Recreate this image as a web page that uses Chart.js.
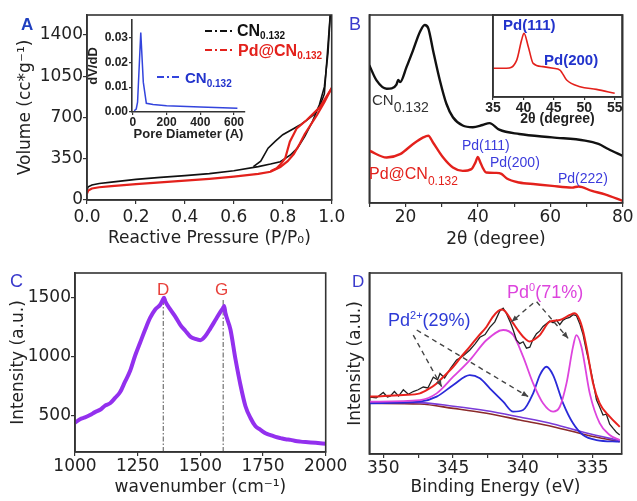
<!DOCTYPE html>
<html>
<head>
<meta charset="utf-8">
<script src="https://cdn.jsdelivr.net/npm/chart.js@4.4.0/dist/chart.umd.min.js"></script>
<style>
  body { margin: 0; background: #fff; }
  #fig { position: relative; width: 637px; height: 501px; overflow: hidden; background: #fff; }
  #fig canvas { position: absolute; }
  .lbl { position: absolute; white-space: nowrap; line-height: 1; font-family: "Liberation Sans", Arial, sans-serif; }
  .lbl span { position: relative; }
  svg { position: absolute; left: 0; top: 0; }
</style>
</head>
<body>
<div id="fig">
  <canvas id="cA" width="360" height="250" style="left:0;top:0"></canvas>
  <canvas id="cAin" width="165" height="135" style="left:85px;top:10px"></canvas>
  <canvas id="cB" width="297" height="250" style="left:340px;top:0"></canvas>
  <canvas id="cBin" width="172" height="125" style="left:465px;top:5px"></canvas>
  <canvas id="cC" width="360" height="251" style="left:0;top:250px"></canvas>
  <canvas id="cD" width="307" height="251" style="left:330px;top:250px"></canvas>

  <svg width="637" height="501">
    <g fill="none" stroke-width="2" stroke-dasharray="7 3 2 3">
      <line x1="205" y1="31" x2="233" y2="31" stroke="#111"/>
      <line x1="205" y1="50" x2="235" y2="50" stroke="#e3211c"/>
      <line x1="157" y1="77" x2="182" y2="77" stroke="#3344dd"/>
    </g>
  </svg>

  <!-- panel letters -->
  <div class="lbl" style="left:21px;top:16px;font-size:17px;font-weight:bold;color:#1f3fbf">A</div>
  <div class="lbl" style="left:349px;top:15px;font-size:18px;color:#3a3acc">B</div>
  <div class="lbl" style="left:10px;top:272px;font-size:18px;color:#3a3acc">C</div>
  <div class="lbl" style="left:352px;top:273px;font-size:17px;color:#3a3acc">D</div>

  <!-- A legend -->
  <div class="lbl" style="left:237px;top:23px;font-size:16px;font-weight:bold;color:#111">CN<span style="font-size:10px;top:3px">0.132</span></div>
  <div class="lbl" style="left:238px;top:43px;font-size:16px;font-weight:bold;color:#e3211c">Pd@CN<span style="font-size:10px;top:3px">0.132</span></div>
  <div class="lbl" style="left:185px;top:70px;font-size:15px;font-weight:bold;color:#2233cc">CN<span style="font-size:10px;top:4px">0.132</span></div>

  <!-- B labels -->
  <div class="lbl" style="left:372px;top:92px;font-size:15px;color:#333">CN<span style="font-size:14px;top:7px">0.132</span></div>
  <div class="lbl" style="left:369px;top:166px;font-size:16px;color:#e3211c">Pd@CN<span style="font-size:12px;top:6px">0.132</span></div>
  <div class="lbl" style="left:462px;top:138px;font-size:14px;color:#3b3bdc">Pd(111)</div>
  <div class="lbl" style="left:490px;top:155px;font-size:14px;color:#3b3bdc">Pd(200)</div>
  <div class="lbl" style="left:558px;top:171px;font-size:14px;color:#3b3bdc">Pd(222)</div>
  <div class="lbl" style="left:503px;top:17px;font-size:15px;font-weight:bold;color:#2233cc">Pd(111)</div>
  <div class="lbl" style="left:544px;top:52px;font-size:15px;font-weight:bold;color:#2233cc">Pd(200)</div>

  <!-- C labels -->
  <div class="lbl" style="left:157px;top:281px;font-size:17px;color:#e8403a">D</div>
  <div class="lbl" style="left:215px;top:281px;font-size:17px;color:#e8403a">G</div>

  <!-- D labels -->
  <div class="lbl" style="left:388px;top:311px;font-size:18px;color:#2d3ad6">Pd<span style="font-size:11px;top:-7px">2+</span>(29%)</div>
  <div class="lbl" style="left:507px;top:283px;font-size:18px;color:#dd44dd">Pd<span style="font-size:11px;top:-7px">0</span>(71%)</div>
</div>

<script>
// ---- A: N2 isotherms (P/P0, cc/g) ----
const cnAdsP = [0.0, 0.005, 0.02, 0.05, 0.1, 0.2, 0.3, 0.4, 0.5, 0.6, 0.7, 0.75, 0.79, 0.83, 0.86, 0.89, 0.92, 0.95, 0.97, 0.985, 0.995];
const cnAdsV = [85, 112, 128, 140, 152, 175, 192, 207, 224, 248, 283, 305, 325, 380, 440, 540, 660, 810, 960, 1250, 1600];
const cnDesP = [0.995, 0.97, 0.95, 0.925, 0.9, 0.87, 0.84, 0.8, 0.77, 0.74, 0.71, 0.68];
const cnDesV = [1600, 900, 790, 721, 680, 636, 600, 554, 500, 440, 330, 283];
const pdAdsP = [0.0, 0.005, 0.02, 0.05, 0.1, 0.2, 0.3, 0.4, 0.5, 0.6, 0.7, 0.75, 0.79, 0.82, 0.845, 0.87, 0.89, 0.94, 0.97, 1.0];
const pdAdsV = [55, 80, 98, 108, 118, 135, 150, 165, 180, 199, 222, 240, 280, 330, 390, 480, 560, 721, 830, 950];
const pdDesP = [1.0, 0.952, 0.898, 0.857, 0.829, 0.81, 0.79, 0.775, 0.75];
const pdDesV = [950, 789, 679, 608, 495, 354, 300, 269, 245];
const aTicksX = [0, 0.2, 0.4, 0.6, 0.8, 1.0];
const aTicksY = [0, 350, 700, 1050, 1400];

// inset A: pore size distribution
const poreD = [8, 20, 28, 47, 62, 80, 120, 200, 400, 620];
const poreDV = [0.0005, 0.0012, 0.004, 0.032, 0.012, 0.0035, 0.003, 0.0025, 0.002, 0.0015];
const aInTicksX = [0, 200, 400, 600];
const aInTicksY = [0, 0.01, 0.02, 0.03];

// ---- B: XRD ----
const xrdCnX = [10, 12, 14.8, 16.2, 17.5, 18, 18.5, 20.3, 22.1, 24, 25.3, 26.3, 27.6, 29.5, 31.3, 33.1, 35.8, 38.6, 41.3, 43.2, 45.9, 51.4, 60.5, 69.6, 73.3, 76, 80];
const xrdCnY = [73.3, 65.2, 60.8, 61, 63, 65.5, 64.3, 72.4, 81.3, 91.1, 94.7, 92.9, 81.3, 65.2, 52.8, 45.6, 41.2, 40.3, 41.5, 42.5, 39, 36.7, 34.9, 33.2, 31.4, 28.7, 25.1];
const xrdPdX = [10, 14.8, 18.5, 22.1, 24.9, 26.3, 27.6, 30.4, 33.1, 35.8, 38.2, 39.3, 40, 40.6, 41.3, 42.3, 45, 46.5, 48, 51.4, 55.9, 60.5, 66, 67.8, 71.5, 75.1, 80];
const xrdPdY = [27.8, 24.2, 26.0, 31.4, 34.9, 35.8, 32.2, 24.2, 18.9, 17.1, 18.0, 21.5, 24.5, 22, 18.9, 16.2, 16.0, 15.5, 13, 10.9, 10.0, 9.1, 8.2, 8.8, 6.4, 4.6, 1.1];
const bTicks = [10, 20, 30, 40, 50, 60, 70, 80];
const bTickLabels = ['', '20', '', '40', '', '60', '', '80'];

// inset B: Pd region
const xrdInX = [35, 37.2, 38.9, 39.7, 40.1, 40.8, 41.6, 43.2, 44.9, 46, 47.1, 49.3, 52, 55];
const xrdInY = [35, 35, 45, 69.5, 77.6, 61.4, 41, 37, 35, 32.9, 20.7, 12.6, 9.3, 4.5];
const bInTicks = [35, 40, 45, 50, 55];

// ---- C: Raman ----
const ramanX = [1000, 1020, 1040, 1060, 1080, 1100, 1120, 1140, 1160, 1180, 1200, 1220, 1240, 1260, 1280, 1300, 1320, 1340, 1350, 1355, 1360, 1380, 1400, 1420, 1440, 1460, 1480, 1500, 1520, 1540, 1560, 1580, 1590, 1595, 1600, 1620, 1640, 1660, 1680, 1700, 1720, 1740, 1760, 1780, 1800, 1820, 1840, 1860, 1880, 1900, 1930, 1960, 2000];
const ramanY = [440, 470, 485, 505, 530, 550, 585, 605, 650, 700, 790, 880, 1010, 1120, 1230, 1330, 1400, 1440, 1480, 1500, 1470, 1400, 1340, 1270, 1220, 1170, 1150, 1140, 1175, 1240, 1310, 1380, 1410, 1430, 1370, 1230, 980, 760, 580, 480, 410, 380, 350, 335, 320, 310, 300, 295, 285, 280, 275, 270, 262];
const ramanBandPos = [1352, 1591];
const ramanBandTop = [1510, 1480];
const cTicksX = [1000, 1250, 1500, 1750, 2000];
const cTicksY = [500, 1000, 1500];

// ---- D: XPS Pd 3d ----
const dRawBE = [350.95, 350.5, 350.0, 349.7, 349.5, 349.2, 348.9, 348.56, 348.2, 347.85, 347.5, 347.13, 346.8, 346.41, 346.1, 345.93, 345.6, 345.2, 344.74, 344.3, 343.79, 343.4, 343.07, 342.7, 342.36, 342.0, 341.64, 341.4, 341.16, 340.9, 340.68, 340.45, 340.21, 339.97, 339.73, 339.49, 339.25, 339.01, 338.77, 338.54, 338.3, 338.06, 337.82, 337.58, 337.34, 337.1, 336.86, 336.63, 336.39, 336.15, 335.91, 335.67, 335.43, 335.19, 334.95, 334.71, 334.48, 334.24, 334.0, 333.76, 333.5, 333.28, 333.04];
const dRaw = [31.5, 31.0, 34.0, 31.5, 32.0, 34.5, 32.0, 35.5, 33.0, 34.5, 35.5, 37.0, 36.5, 42.5, 41.0, 44.5, 42.0, 47.0, 52.0, 54.0, 57.5, 61.0, 64.5, 66.0, 70.0, 73.0, 79.0, 80.5, 77.5, 73.0, 68.5, 63.0, 61.0, 62.0, 58.5, 59.0, 63.5, 66.5, 68.0, 70.5, 72.0, 73.5, 72.5, 74.0, 71.5, 74.0, 75.0, 75.5, 77.0, 76.5, 72.0, 66.0, 57.0, 49.0, 40.0, 30.0, 26.0, 21.5, 22.0, 16.5, 14.0, 12.0, 10.5];
const dFitBE = [350.95, 348.56, 347.37, 346.77, 346.17, 345.57, 344.98, 344.38, 343.79, 343.19, 342.59, 342.17, 341.76, 341.52, 341.28, 340.68, 340.21, 339.97, 339.49, 339.13, 338.77, 338.06, 337.34, 336.63, 336.27, 335.91, 335.67, 335.43, 334.95, 334.48, 333.76, 333.04];
const dFit = [31.7, 32.6, 33.5, 35.8, 39.0, 43.5, 48.2, 54.0, 59.3, 65.0, 70.3, 75.5, 79.0, 79.9, 79.0, 72.2, 67.0, 64.8, 62.1, 63.5, 65.7, 73.1, 74.0, 76.8, 77.7, 74.0, 68.0, 59.3, 39.0, 28.0, 20.6, 15.0];
const dPd0BE = [350.95, 347.37, 346.17, 344.98, 343.79, 342.59, 341.40, 340.68, 339.97, 339.25, 338.54, 337.82, 337.34, 336.86, 336.39, 336.15, 335.79, 335.19, 334.48, 333.76, 333.04];
const dPd0 = [28.9, 29.8, 33.5, 42.7, 51.9, 63.0, 68.5, 65.7, 53.8, 39.0, 28.0, 23.4, 26.1, 39.0, 59.3, 65.7, 59.3, 33.5, 17.0, 10.5, 7.7];
const dPd2BE = [350.95, 347.37, 346.17, 344.98, 343.79, 343.07, 342.36, 341.40, 340.68, 339.97, 339.25, 338.77, 338.30, 337.82, 337.10, 336.39, 335.67, 334.71, 333.04];
const dPd2 = [28.0, 28.9, 31.7, 38.1, 43.6, 41.8, 36.3, 28.9, 23.4, 24.3, 33.5, 43.6, 48.2, 43.6, 28.0, 17.0, 10.5, 7.7, 6.8];
const dBgBE = [350.95, 347.37, 344.98, 342.59, 340.21, 337.82, 335.43, 333.04];
const dBg = [28.0, 27.6, 25.2, 22.5, 18.8, 15.1, 10.5, 6.8];
const dBg2 = [28.7, 28.4, 26.4, 23.9, 20.4, 16.6, 11.6, 7.4];
const dTicks = [350, 347.5, 345, 342.5, 340, 337.5, 335];
// dashed arrows: [fromBE, fromI, toBE, toI]
const dArrows = [[347.85, 65.7, 345.81, 37.2], [347.6, 68.5, 339.61, 31.7], [339.25, 83.3, 340.8, 73.1], [339.0, 84.1, 336.74, 63.9]];

Chart.defaults.font.family = 'DejaVu Sans';
Chart.defaults.color = '#222';

function pts(xs, ys) { return xs.map((x, i) => ({ x: x, y: ys[i] })); }

function line(data, color, width, smooth) {
    return {
        data: data,
        borderColor: color,
        borderWidth: width,
        pointRadius: 0,
        fill: false,
        tension: 0,
        cubicInterpolationMode: smooth ? 'monotone' : 'default'
    };
}

// axis helper; size = fixed box width (y) or height (x)
function axis(o) {
    return {
        type: 'linear',
        min: o.min, max: o.max, reverse: !!o.reverse,
        afterBuildTicks: o.ticks ? s => { s.ticks = o.ticks.map(v => ({ value: v })); } : undefined,
        afterFit: s => { if (o.horizontal) s.height = o.size; else s.width = o.size; },
        border: { display: true, color: '#333', width: 1.6 },
        grid: { display: true, drawOnChartArea: false, drawTicks: o.tickLen > 0, tickLength: o.tickLen || 0, color: '#333', lineWidth: 1.2 },
        ticks: { display: o.labels !== false, padding: o.pad || 0, font: o.font, color: '#222', maxRotation: 0, autoSkip: false, callback: o.fmt },
        title: { display: !!o.title, text: o.title, font: o.titleFont, color: '#222', padding: o.titlePad || 0 }
    };
}

function options(pad, x, y, extra) {
    return {
        responsive: false,
        animation: false,
        events: [],
        layout: { padding: pad },
        plugins: Object.assign({ legend: { display: false }, tooltip: { enabled: false } }, extra || {}),
        scales: { x: x, y: y }
    };
}

// box round the plot area
Chart.register({
    id: 'frame',
    afterDatasetsDraw(chart, args, opts) {
        if (!opts.show) return;
        const a = chart.chartArea, ctx = chart.ctx;
        ctx.save();
        ctx.strokeStyle = '#333';
        ctx.lineWidth = 1.6;
        ctx.strokeRect(a.left, a.top, a.right - a.left, a.bottom - a.top);
        ctx.restore();
    }
});

const mainFont = { family: 'DejaVu Sans', size: 17 };
const insetFont = { family: 'Liberation Sans', size: 12, weight: 'bold' };

// Panel A
new Chart(document.getElementById('cA'), {
    type: 'line',
    data: { datasets: [
        line(pts(pdAdsP, pdAdsV), '#e3211c', 2.2),
        line(pts(pdDesP, pdDesV), '#e3211c', 2.2),
        line(pts(cnAdsP, cnAdsV), '#111', 1.6),
        line(pts(cnDesP, cnDesV), '#111', 1.6)
    ] },
    options: options({ left: 0, top: 15, right: 28.3, bottom: 0 },
        axis({ horizontal: true, min: 0, max: 1, ticks: aTicksX, size: 50, tickLen: 4, pad: 3, font: mainFont,
               fmt: v => v.toFixed(1), title: 'Reactive Pressure (P/P\u2080)', titleFont: mainFont, titlePad: { bottom: 1 } }),
        axis({ min: 0, max: 1570, ticks: aTicksY, size: 87, tickLen: 4, pad: 0, font: mainFont,
               fmt: v => String(v), title: 'Volume (cc*g\u207B\u00B9)', titleFont: mainFont, titlePad: { top: 15 } }),
        { frame: { show: true } })
});

// Inset A
new Chart(document.getElementById('cAin'), {
    type: 'line',
    data: { datasets: [line(pts(poreD, poreDV), '#3344dd', 1.5)] },
    options: options({ left: 0, top: 10, right: 5, bottom: 0 },
        axis({ horizontal: true, min: -5, max: 665, ticks: aInTicksX, size: 33, tickLen: 3, pad: 0, font: insetFont,
               fmt: v => String(v), title: 'Pore Diameter (A)', titleFont: { family: 'Liberation Sans', size: 13, weight: 'bold' }, titlePad: { bottom: 3 } }),
        axis({ min: 0, max: 0.037, ticks: aInTicksY, size: 47, tickLen: 3, pad: 1, font: insetFont,
               fmt: v => v.toFixed(2), title: 'dV/dD', titleFont: { family: 'Liberation Sans', size: 13, weight: 'bold' }, titlePad: { top: 1 } }))
});

// Panel B
new Chart(document.getElementById('cB'), {
    type: 'line',
    data: { datasets: [
        line(pts(xrdCnX, xrdCnY), '#111', 2.4, true),
        line(pts(xrdPdX, xrdPdY), '#e3211c', 2.4, true)
    ] },
    options: options({ left: 0, top: 15, right: 14.3, bottom: 0 },
        axis({ horizontal: true, min: 10, max: 80, ticks: bTicks, size: 47, tickLen: 4, pad: 0, font: mainFont,
               fmt: (v, i) => bTickLabels[i], title: '2\u03B8 (degree)', titleFont: mainFont, titlePad: { bottom: 0 } }),
        axis({ min: 0, max: 100, size: 29.3, tickLen: 0, labels: false }),
        { frame: { show: true } })
});

// Inset B
new Chart(document.getElementById('cBin'), {
    type: 'line',
    data: { datasets: [line(pts(xrdInX, xrdInY), '#e3211c', 1.6, true)] },
    options: options({ left: 0, top: 10, right: 15, bottom: 0 },
        axis({ horizontal: true, min: 35, max: 56.2, ticks: bInTicks, size: 33, tickLen: 3, pad: 0,
               font: { family: 'Liberation Sans', size: 14, weight: 'bold' }, fmt: v => String(v),
               title: '2\u03B8 (degree)', titleFont: { family: 'Liberation Sans', size: 14, weight: 'bold' }, titlePad: { bottom: 2 } }),
        axis({ min: 0, max: 100, size: 28, tickLen: 0, labels: false }),
        { frame: { show: true } })
});

// Panel C
new Chart(document.getElementById('cC'), {
    type: 'line',
    data: { datasets: [line(pts(ramanX, ramanY), '#9330ee', 4, true)] },
    options: options({ left: 0, top: 23, right: 34.3, bottom: 0 },
        axis({ horizontal: true, min: 1000, max: 2000, ticks: cTicksX, size: 49, tickLen: 4, pad: 0, font: mainFont,
               fmt: v => String(v), title: 'wavenumber (cm\u207B\u00B9)', titleFont: mainFont, titlePad: { bottom: 3 } }),
        axis({ min: 192, max: 1709, ticks: cTicksY, size: 75, tickLen: 4, pad: 0, font: mainFont,
               fmt: v => String(v), title: 'Intensity (a.u.)', titleFont: mainFont, titlePad: { top: 8 } }),
        { frame: { show: true } }),
    plugins: [{
        id: 'bands',
        beforeDatasetsDraw(chart) {
            const ctx = chart.ctx, x = chart.scales.x, y = chart.scales.y;
            ctx.save();
            ctx.strokeStyle = '#555';
            ctx.lineWidth = 1;
            ctx.setLineDash([5, 2, 1.5, 2]);
            ramanBandPos.forEach((b, i) => {
                const px = x.getPixelForValue(b);
                ctx.beginPath();
                ctx.moveTo(px, y.getPixelForValue(y.min));
                ctx.lineTo(px, y.getPixelForValue(ramanBandTop[i]));
                ctx.stroke();
            });
            ctx.restore();
        }
    }]
});

// Panel D
new Chart(document.getElementById('cD'), {
    type: 'line',
    data: { datasets: [
        line(pts(dFitBE, dFit), '#e8221e', 2, true),
        line(pts(dRawBE, dRaw), '#222', 1.3),
        line(pts(dPd0BE, dPd0), '#dd44dd', 1.8, true),
        line(pts(dPd2BE, dPd2), '#2a2ad8', 1.8, true),
        line(pts(dBgBE, dBg2), '#7a3ad8', 1.6, true),
        line(pts(dBgBE, dBg), '#8b2a2a', 1.6, true)
    ] },
    options: options({ left: 0, top: 23, right: 15.3, bottom: 0 },
        axis({ horizontal: true, min: 332.9, max: 351, reverse: true, ticks: dTicks, size: 47, tickLen: 4, pad: 0, font: mainFont,
               fmt: v => (v % 5 === 0 ? String(v) : ''), title: 'Binding Energy (eV)', titleFont: mainFont, titlePad: { bottom: 3 } }),
        axis({ min: 0, max: 100, size: 39.3, tickLen: 0, labels: false,
               title: 'Intensity (a.u.)', titleFont: mainFont, titlePad: { top: 15 } }),
        { frame: { show: true } }),
    plugins: [{
        id: 'arrows',
        afterDatasetsDraw(chart) {
            const ctx = chart.ctx, x = chart.scales.x, y = chart.scales.y;
            ctx.save();
            ctx.strokeStyle = '#444';
            ctx.fillStyle = '#444';
            ctx.lineWidth = 1.4;
            dArrows.forEach(a => {
                const x1 = x.getPixelForValue(a[0]), y1 = y.getPixelForValue(a[1]);
                const x2 = x.getPixelForValue(a[2]), y2 = y.getPixelForValue(a[3]);
                ctx.setLineDash([5, 4]);
                ctx.beginPath(); ctx.moveTo(x1, y1); ctx.lineTo(x2, y2); ctx.stroke();
                ctx.setLineDash([]);
                const ang = Math.atan2(y2 - y1, x2 - x1), h = 7;
                ctx.beginPath();
                ctx.moveTo(x2, y2);
                ctx.lineTo(x2 - h * Math.cos(ang - 0.4), y2 - h * Math.sin(ang - 0.4));
                ctx.lineTo(x2 - h * Math.cos(ang + 0.4), y2 - h * Math.sin(ang + 0.4));
                ctx.closePath();
                ctx.fill();
            });
            ctx.restore();
        }
    }]
});
</script>
</body>
</html>
